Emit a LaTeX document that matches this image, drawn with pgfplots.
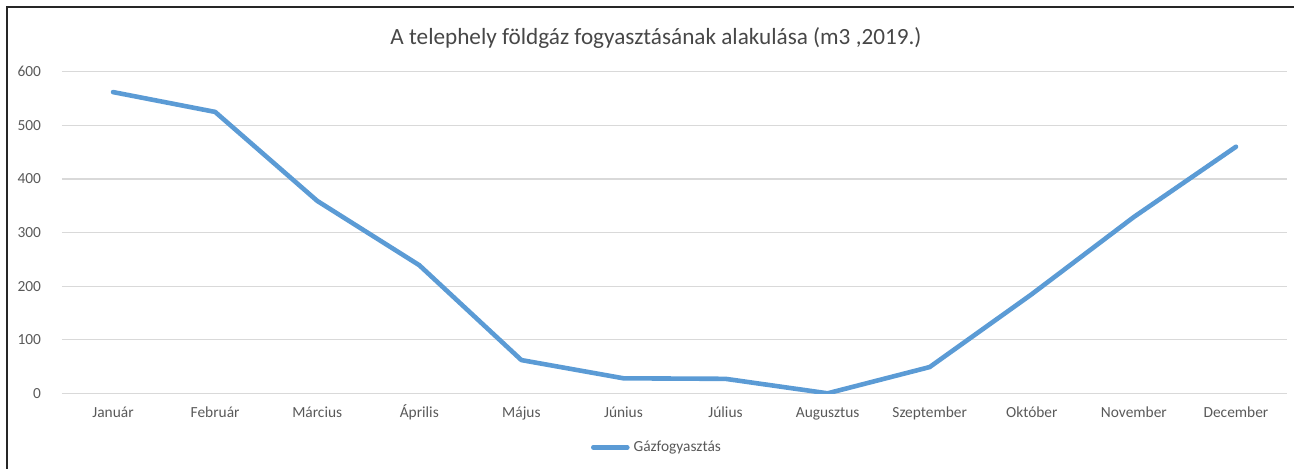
\documentclass[border=0pt]{standalone}
\usepackage{pgfplots}
\pgfplotsset{compat=1.18}
\usepackage{fontspec}
\setmainfont{Carlito}
\definecolor{linec}{HTML}{5B9BD5}
\definecolor{gridc}{HTML}{D9D9D9}
\definecolor{txtc}{HTML}{595959}
\begin{document}
\begin{tikzpicture}
\useasboundingbox (0pt,0pt) rectangle (647pt,234pt);
\draw[line width=1pt, black!85] (3.25pt,-10pt) -- (3.25pt,230.5pt) -- (660pt,230.5pt);
\node[font=\fontsize{11.6}{13}\selectfont, text=txtc!80!black] at (328pt,215pt) {A telephely földgáz fogyasztásának alakulása (m3 ,2019.)};
\begin{axis}[
  at={(31pt,37.35pt)}, anchor=south west,
  scale only axis, width=612.5pt, height=160.8pt,
  xmin=-0.5, xmax=11.5, ymin=0, ymax=600,
  ytick={0,100,...,600},
  xtick={0,...,11},
  xticklabels={Január,Február,Március,Április,Május,Június,Július,Augusztus,Szeptember,Október,November,December},
  axis line style={draw=none},
  major tick length=0pt,
  ymajorgrids, grid style={gridc, line width=0.6pt},
  tick label style={font=\fontsize{7.7}{9}\selectfont, text=txtc},
  /pgf/number format/assume math mode=true,
  yticklabel style={xshift=-7pt},
  xticklabel style={text height=6.6pt, text depth=1.5pt, yshift=-1.9pt},
  legend style={at={(0.4865,-0.168)}, anchor=center, draw=none, fill=none,
    font=\fontsize{7.7}{9}\selectfont, text=txtc, inner sep=0pt},
  legend image code/.code={\draw[#1] (0pt,0pt) -- (17pt,0pt);},
  legend cell align=left,
]
\addplot[linec, line width=2.3pt, line join=round, line cap=round] coordinates {
(0,562) (1,525) (2,359) (3,239) (4,62) (5,28) (6,27) (7,0) (8,49) (9,185) (10,329) (11,460)
};
\addlegendentry{Gázfogyasztás}
\end{axis}
\end{tikzpicture}
\end{document}
